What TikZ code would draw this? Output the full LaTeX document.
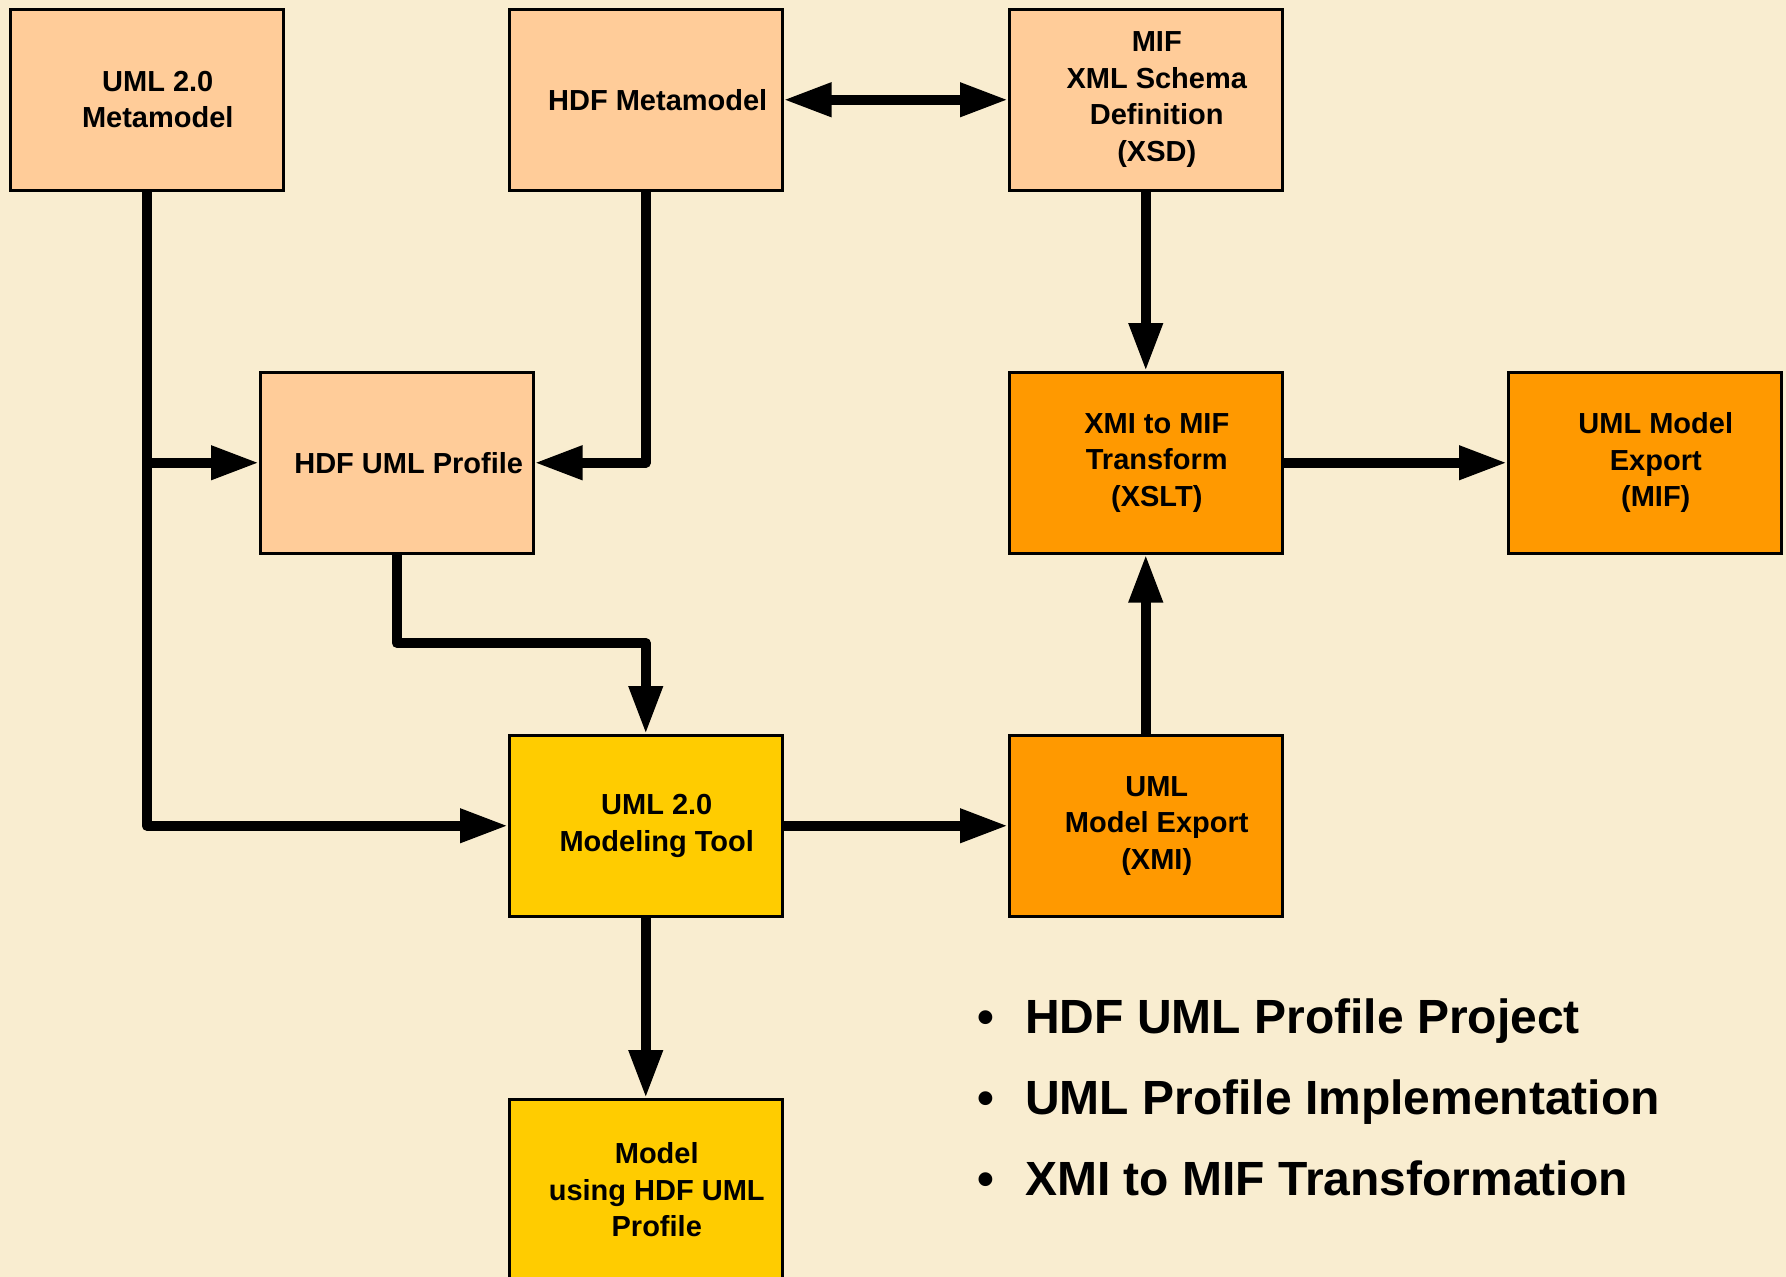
\documentclass[tikz,border=0pt]{standalone}
\usepackage{fontspec}
\setmainfont{Liberation Sans}
\usetikzlibrary{arrows.meta}
\definecolor{bg}{RGB}{249,237,208}
\definecolor{peach}{RGB}{255,204,153}
\definecolor{orng}{RGB}{255,153,0}
\definecolor{yell}{RGB}{255,204,0}
\begin{document}
\begin{tikzpicture}[x=1pt,y=-1pt,
  box/.style={draw=black, line width=2.5pt, minimum width=273pt, minimum height=181pt, inner sep=0pt, anchor=north west},
  lbl/.style={font=\fontsize{29}{36.5}\selectfont\bfseries, align=center, inner sep=0pt},
  bul/.style={font=\fontsize{48}{56}\selectfont\bfseries, anchor=base west, inner sep=0pt},
  conn/.style={line width=10pt, line join=round, -{Triangle[length=48pt,width=32pt]}},
  dconn/.style={line width=10pt, {Triangle[length=48pt,width=32pt]}-{Triangle[length=48pt,width=32pt]}}]
\fill[bg] (0,0) rectangle (1786,1277);
\clip (0,0) rectangle (1786,1277);
\useasboundingbox (0,0) rectangle (1786,1277);

% boxes
\node[box, fill=peach] (m1) at (9,8) {};
\node[box, fill=peach] (hm) at (508,8) {};
\node[box, fill=peach] (mif) at (1008,8) {};
\node[box, fill=peach] (prof) at (259,371) {};
\node[box, fill=orng] (xslt) at (1008,371) {};
\node[box, fill=orng] (exmif) at (1507,371) {};
\node[box, fill=yell] (tool) at (508,734) {};
\node[box, fill=orng] (exxmi) at (1008,734) {};
\node[box, fill=yell] (model) at (508,1098) {};

% labels
\node[lbl] (m1t) at ([xshift=11pt]m1.center) {UML 2.0\\Metamodel};
\node[lbl] (hmt) at ([xshift=12pt]hm.center) {HDF Metamodel};
\node[lbl] (mift) at ([xshift=11pt]mif.center) {MIF\\XML Schema\\Definition\\(XSD)};
\node[lbl] (proft) at ([xshift=12pt]prof.center) {HDF UML Profile};
\node[lbl] (xsltt) at ([xshift=11pt]xslt.center) {XMI to MIF\\Transform\\(XSLT)};
\node[lbl] (exmift) at ([xshift=11pt]exmif.center) {UML Model\\Export\\(MIF)};
\node[lbl] (toolt) at ([xshift=11pt]tool.center) {UML 2.0\\Modeling Tool};
\node[lbl] (exxmit) at ([xshift=11pt]exxmi.center) {UML\\Model Export\\(XMI)};
\node[lbl] (modelt) at ([xshift=11pt]model.center) {Model\\using HDF UML\\Profile};

% connectors
\coordinate (j1) at (m1.south |- prof.west);
\coordinate (k1) at (0,643);
\draw[conn] (m1.south) |- (tool.west);
\draw[conn] (j1) -- (prof.west);
\draw[conn] (hm.south) |- (prof.east);
\draw[conn] (prof.south) -- (prof.south |- k1) -| (tool.north);
\draw[dconn] (hm.east) -- (mif.west);
\draw[conn] (mif.south) -- (xslt.north);
\draw[conn] (xslt.east) -- (exmif.west);
\draw[conn] (tool.east) -- (exxmi.west);
\draw[conn] (exxmi.north) -- (xslt.south);
\draw[conn] (tool.south) -- (model.north);

% bullets
\node[bul] (b1) at (977,1033) {\makebox[48pt][l]{•}HDF UML Profile Project};
\node[bul] (b2) at (977,1114) {\makebox[48pt][l]{•}UML Profile Implementation};
\node[bul] (b3) at (977,1195) {\makebox[48pt][l]{•}XMI to MIF Transformation};
\end{tikzpicture}
\end{document}
